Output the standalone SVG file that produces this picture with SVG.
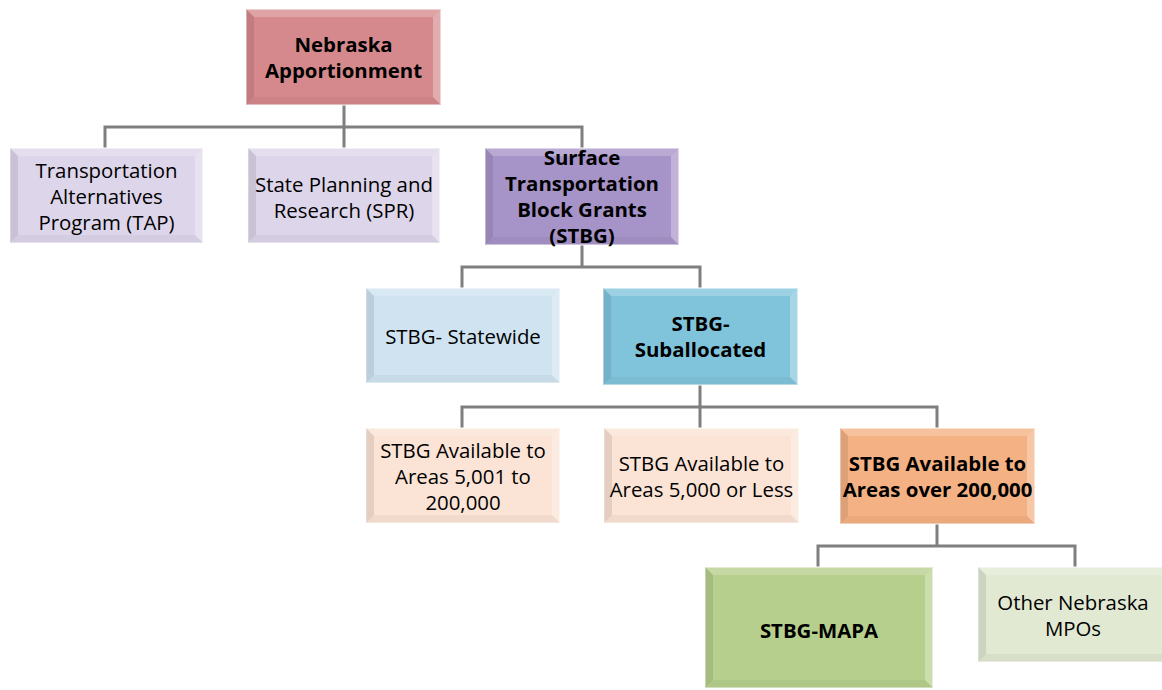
<svg xmlns="http://www.w3.org/2000/svg" width="1162" height="690" viewBox="0 0 1162 690">
<defs>
<style>
.t{font-family:"Open Sans","Noto Sans","DejaVu Sans",sans-serif;font-size:20.4px;fill:#000;text-anchor:middle}
.b{font-weight:bold;font-size:20.4px}
.bt{fill:#fff;fill-opacity:0.22}
.bl{fill:#000;fill-opacity:0.09}
.br{fill:#fff;fill-opacity:0.30}
.bb{fill:#000;fill-opacity:0.04}
.frame{stroke:#ffffff;stroke-opacity:0.5;stroke-width:2}
.c{fill:none;stroke:#7f7f7f;stroke-width:3}
</style>
</defs>
<rect width="1162" height="690" fill="#ffffff"/>
<g id="connectors">
<path class="c" d="M344 105V127M105 148V127H582V148M344 127V148"/>
<path class="c" d="M582 245V267M462 288V267H700V288"/>
<path class="c" d="M700 385V407M462 428V407H937V428M700 407V428"/>
<path class="c" d="M937 524V546M818 567V546H1075V567"/>
</g>
<g id="n1">
<rect class="frame" x="246" y="9" width="195" height="96" fill="#d6898c"/>
<polygon class="bt" points="246,9 441,9 433,17 254,17"/>
<polygon class="bl" points="246,9 254,17 254,97 246,105"/>
<polygon class="br" points="441,9 441,105 433,97 433,17"/>
<polygon class="bb" points="246,105 254,97 433,97 441,105"/>
<text class="t b" x="343.5" y="52">Nebraska</text>
<text class="t b" x="343.5" y="78">Apportionment</text>
</g>
<g id="n2">
<rect class="frame" x="10" y="148" width="193" height="95" fill="#ddd5ea"/>
<polygon class="bt" points="10,148 203,148 195,156 18,156"/>
<polygon class="bl" points="10,148 18,156 18,235 10,243"/>
<polygon class="br" points="203,148 203,243 195,235 195,156"/>
<polygon class="bb" points="10,243 18,235 195,235 203,243"/>
<text class="t" x="106.5" y="178">Transportation</text>
<text class="t" x="106.5" y="204">Alternatives</text>
<text class="t" x="106.5" y="230">Program (TAP)</text>
</g>
<g id="n3">
<rect class="frame" x="248" y="148" width="192" height="95" fill="#ddd5ea"/>
<polygon class="bt" points="248,148 440,148 432,156 256,156"/>
<polygon class="bl" points="248,148 256,156 256,235 248,243"/>
<polygon class="br" points="440,148 440,243 432,235 432,156"/>
<polygon class="bb" points="248,243 256,235 432,235 440,243"/>
<text class="t" x="344" y="192">State Planning and</text>
<text class="t" x="344" y="218">Research (SPR)</text>
</g>
<g id="n4">
<rect class="frame" x="485" y="148" width="194" height="97" fill="#a693c8"/>
<polygon class="bt" points="485,148 679,148 671,156 493,156"/>
<polygon class="bl" points="485,148 493,156 493,237 485,245"/>
<polygon class="br" points="679,148 679,245 671,237 671,156"/>
<polygon class="bb" points="485,245 493,237 671,237 679,245"/>
<text class="t b" x="582" y="165">Surface</text>
<text class="t b" x="582" y="191">Transportation</text>
<text class="t b" x="582" y="217">Block Grants</text>
<text class="t b" x="582" y="243">(STBG)</text>
</g>
<g id="n5">
<rect class="frame" x="366" y="288" width="194" height="95" fill="#cfe3f1"/>
<polygon class="bt" points="366,288 560,288 552,296 374,296"/>
<polygon class="bl" points="366,288 374,296 374,375 366,383"/>
<polygon class="br" points="560,288 560,383 552,375 552,296"/>
<polygon class="bb" points="366,383 374,375 552,375 560,383"/>
<text class="t" x="463" y="344">STBG- Statewide</text>
</g>
<g id="n6">
<rect class="frame" x="603" y="288" width="195" height="97" fill="#80c4dc"/>
<polygon class="bt" points="603,288 798,288 790,296 611,296"/>
<polygon class="bl" points="603,288 611,296 611,377 603,385"/>
<polygon class="br" points="798,288 798,385 790,377 790,296"/>
<polygon class="bb" points="603,385 611,377 790,377 798,385"/>
<text class="t b" x="700.5" y="331">STBG-</text>
<text class="t b" x="700.5" y="357">Suballocated</text>
</g>
<g id="n7">
<rect class="frame" x="366" y="428" width="194" height="95" fill="#fbe3d5"/>
<polygon class="bt" points="366,428 560,428 552,436 374,436"/>
<polygon class="bl" points="366,428 374,436 374,515 366,523"/>
<polygon class="br" points="560,428 560,523 552,515 552,436"/>
<polygon class="bb" points="366,523 374,515 552,515 560,523"/>
<text class="t" x="463" y="458">STBG Available to</text>
<text class="t" x="463" y="484">Areas 5,001 to</text>
<text class="t" x="463" y="510">200,000</text>
</g>
<g id="n8">
<rect class="frame" x="604" y="428" width="195" height="95" fill="#fbe3d5"/>
<polygon class="bt" points="604,428 799,428 791,436 612,436"/>
<polygon class="bl" points="604,428 612,436 612,515 604,523"/>
<polygon class="br" points="799,428 799,523 791,515 791,436"/>
<polygon class="bb" points="604,523 612,515 791,515 799,523"/>
<text class="t" x="701.5" y="471">STBG Available to</text>
<text class="t" x="701.5" y="497">Areas 5,000 or Less</text>
</g>
<g id="n9">
<rect class="frame" x="840" y="428" width="195" height="96" fill="#f4b183"/>
<polygon class="bt" points="840,428 1035,428 1027,436 848,436"/>
<polygon class="bl" points="840,428 848,436 848,516 840,524"/>
<polygon class="br" points="1035,428 1035,524 1027,516 1027,436"/>
<polygon class="bb" points="840,524 848,516 1027,516 1035,524"/>
<text class="t b" x="937.5" y="471">STBG Available to</text>
<text class="t b" x="937.5" y="497">Areas over 200,000</text>
</g>
<g id="n10">
<rect class="frame" x="705" y="567" width="228" height="121" fill="#b6cf8c"/>
<polygon class="bt" points="705,567 933,567 925,575 713,575"/>
<polygon class="bl" points="705,567 713,575 713,680 705,688"/>
<polygon class="br" points="933,567 933,688 925,680 925,575"/>
<polygon class="bb" points="705,688 713,680 925,680 933,688"/>
<text class="t b" x="819" y="638">STBG-MAPA</text>
</g>
<g id="n11">
<rect class="frame" x="978" y="567" width="192" height="95" fill="#e1e9d2"/>
<polygon class="bt" points="978,567 1170,567 1162,575 986,575"/>
<polygon class="bl" points="978,567 986,575 986,654 978,662"/>
<polygon class="br" points="1170,567 1170,662 1162,654 1162,575"/>
<polygon class="bb" points="978,662 986,654 1162,654 1170,662"/>
<text class="t" x="1073" y="610">Other Nebraska</text>
<text class="t" x="1073" y="636">MPOs</text>
</g>
</svg>
